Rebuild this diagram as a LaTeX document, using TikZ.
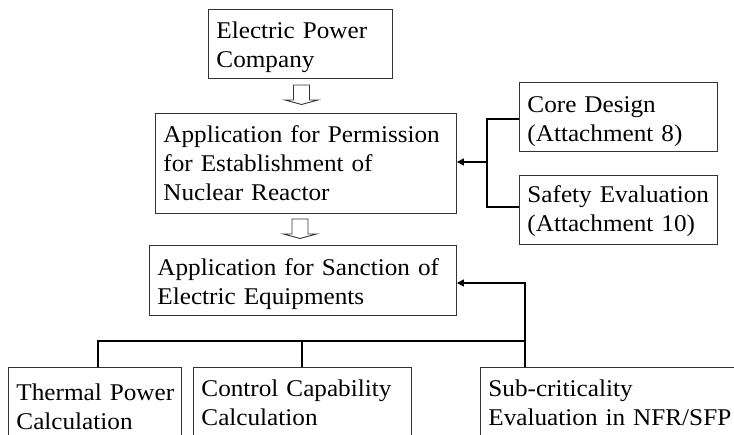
\documentclass[tikz,border=0pt]{standalone}
\usepackage{fontspec}
\setmainfont{Liberation Serif}[FakeStretch=1.05]
\usetikzlibrary{arrows.meta}
\newcommand\boxtext[3]{\rule{0pt}{#1}#3\rule[-#2]{0pt}{#2}}
\begin{document}
\begin{tikzpicture}[x=1pt,y=-1pt,
  box/.style={draw=black!80, line width=0.9pt, inner xsep=8pt, inner ysep=0pt,
    align=left, anchor=north west, font=\fontsize{24}{29}\selectfont},
  conn/.style={line width=1.3pt, draw=black},
  arr/.style={conn, -{Triangle[length=7pt,width=7pt]}},
  harrow/.style={draw=black!80, line width=0.9pt, fill=white},
  hollowarr/.pic={\path[harrow] (-8,0) -- (8,0) -- (8,15) -- (16.5,15) -- (0,19.5) -- (-16.5,15) -- (-8,15) -- cycle;}]
\path[use as bounding box, clip] (0,0) rectangle (734,434);
\fill[white] (0,0) rectangle (734,434);

\node[box, text width=168pt] (b1) at (208,9)
  {\boxtext{29pt}{11pt}{\mbox{Electric Power}\\\mbox{Company}}};
\node[box, text width=285pt] (b2) at (155,113)
  {\boxtext{29pt}{13pt}{\mbox{Application for Permission}\\\mbox{for Establishment of}\\\mbox{Nuclear Reactor}}};
\node[box, text width=182pt] (core) at (519,82)
  {\boxtext{30pt}{10pt}{\mbox{Core Design}\\\mbox{(Attachment 8)}}};
\node[box, text width=182pt] (safety) at (519,175)
  {\boxtext{27pt}{13pt}{\mbox{Safety Evaluation}\\\mbox{(Attachment 10)}}};
\node[box, text width=291pt] (b3) at (149,245)
  {\boxtext{30pt}{11pt}{\mbox{Application for Sanction of}\\\mbox{Electric Equipments}}};
\node[box, text width=157pt] (thermal) at (8,367)
  {\boxtext{33pt}{11pt}{\mbox{Thermal Power}\\\mbox{Calculation}}};
\node[box, text width=202pt] (control) at (193,367)
  {\boxtext{29pt}{15pt}{\mbox{Control Capability}\\\mbox{Calculation}}};
\node[box, text width=246pt] (sub) at (480,367)
  {\boxtext{29pt}{15pt}{\mbox{Sub-criticality}\\\mbox{Evaluation in NFR/SFP}}};

\pic at (301.5,85) {hollowarr};
\pic at (300,219) {hollowarr};

\coordinate (jA) at (487,162);
\draw[conn] ([yshift=-2pt]core.west) -| (jA) |- ([yshift=3pt]safety.west);
\draw[arr] (jA) -- (jA -| b2.east);

\coordinate (jB) at (525,283);
\coordinate (hl) at (98,341);
\coordinate (hm) at (302,341);
\coordinate (hr) at (525,341);
\draw[conn] (hl |- thermal.north) -- (hl) -- (hr) -- (hr |- sub.north);
\draw[conn] (hm) -- (hm |- control.north);
\draw[arr] (hr) -- (jB) -- (jB -| b3.east);
\end{tikzpicture}
\end{document}
